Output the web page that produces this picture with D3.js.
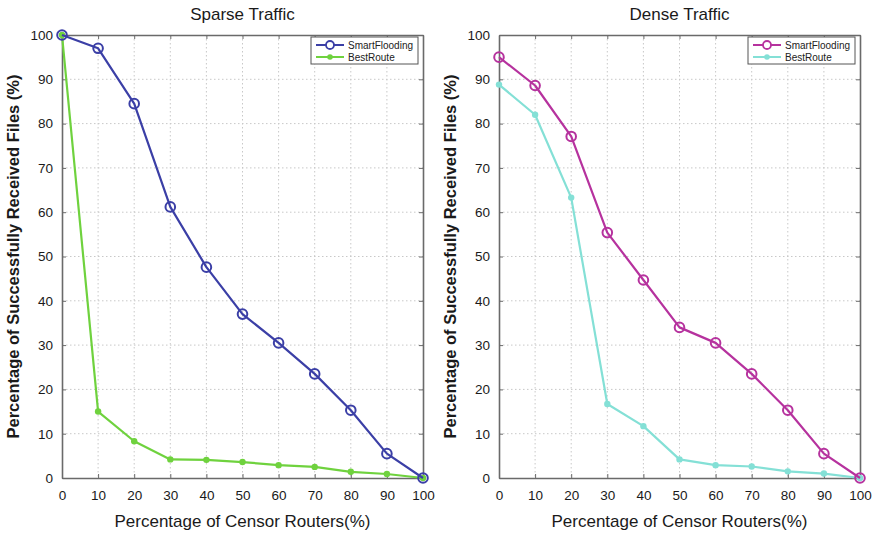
<!DOCTYPE html>
<html>
<head>
<meta charset="utf-8">
<script src="https://cdn.jsdelivr.net/npm/d3@7"></script>
<style>
  html, body { margin: 0; padding: 0; background: #fff; }
  svg { display: block; font-family: "Liberation Sans", Arial, Helvetica, sans-serif; }
</style>
</head>
<body>
<svg id="chart" width="875" height="534"></svg>
<script>
// Censor router share (%) on the x axis
const censorPct = [0, 10, 20, 30, 40, 50, 60, 70, 80, 90, 100];

// Sparse traffic: successfully received files (%)
const sparseSmartFlooding = [100, 97, 84.5, 61.2, 47.6, 37, 30.5, 23.5, 15.3, 5.5, 0];
const sparseBestRoute     = [100, 15, 8.3, 4.2, 4.1, 3.6, 2.9, 2.5, 1.4, 0.9, 0];

// Dense traffic: successfully received files (%)
const denseSmartFlooding = [95, 88.6, 77.1, 55.4, 44.7, 34, 30.5, 23.5, 15.3, 5.5, 0];
const denseBestRoute     = [88.8, 82, 63.3, 16.7, 11.7, 4.2, 2.9, 2.6, 1.5, 1.0, 0];

const xTicks = [0, 10, 20, 30, 40, 50, 60, 70, 80, 90, 100];
const yTicks = [0, 10, 20, 30, 40, 50, 60, 70, 80, 90, 100];

const seriesNames = ["SmartFlooding", "BestRoute"];

const panels = [
  {
    title: "Sparse Traffic",
    left: 62, right: 423,
    series: [
      { name: seriesNames[0], values: sparseSmartFlooding, color: "#3b3fa6", marker: "ring" },
      { name: seriesNames[1], values: sparseBestRoute, color: "#6fd23e", marker: "dot" }
    ]
  },
  {
    title: "Dense Traffic",
    left: 499, right: 860,
    series: [
      { name: seriesNames[0], values: denseSmartFlooding, color: "#b6329e", marker: "ring" },
      { name: seriesNames[1], values: denseBestRoute, color: "#84e0d6", marker: "dot" }
    ]
  }
];

const plotTop = 35, plotBottom = 478;
const svg = d3.select("#chart");

panels.forEach(p => {
  const x = d3.scaleLinear().domain([0, 100]).range([p.left, p.right]);
  const y = d3.scaleLinear().domain([0, 100]).range([plotBottom, plotTop]);
  const g = svg.append("g");

  // dotted grid
  g.append("g").selectAll("line").data(xTicks.slice(1, -1)).join("line")
    .attr("x1", d => x(d)).attr("x2", d => x(d))
    .attr("y1", plotTop).attr("y2", plotBottom)
    .attr("stroke", "#c8c8c8").attr("stroke-width", 1)
    .attr("stroke-dasharray", "1.5,2.5");
  g.append("g").selectAll("line").data(yTicks.slice(1, -1)).join("line")
    .attr("x1", p.left).attr("x2", p.right)
    .attr("y1", d => y(d)).attr("y2", d => y(d))
    .attr("stroke", "#c8c8c8").attr("stroke-width", 1)
    .attr("stroke-dasharray", "1.5,2.5");

  // axes with inward ticks
  const xAxis = g.append("g").attr("transform", `translate(0,${plotBottom})`)
    .call(d3.axisBottom(x).tickValues(xTicks).tickSizeInner(-4).tickSizeOuter(0).tickPadding(12));
  const xAxisTop = g.append("g").attr("transform", `translate(0,${plotTop})`)
    .call(d3.axisTop(x).tickValues(xTicks).tickSizeInner(-4).tickSizeOuter(0).tickFormat(""));
  const yAxis = g.append("g").attr("transform", `translate(${p.left},0)`)
    .call(d3.axisLeft(y).tickValues(yTicks).tickSizeInner(-4).tickSizeOuter(0).tickPadding(9));
  const yAxisRight = g.append("g").attr("transform", `translate(${p.right},0)`)
    .call(d3.axisRight(y).tickValues(yTicks).tickSizeInner(-4).tickSizeOuter(0).tickFormat(""));

  [xAxis, xAxisTop, yAxis, yAxisRight].forEach(a => {
    a.select(".domain").attr("stroke", "#6a6a6a").attr("stroke-width", 1.6);
    a.selectAll(".tick line").attr("stroke", "#6a6a6a").attr("stroke-width", 1);
    a.selectAll("text").attr("fill", "#1a1a1a").style("font-size", "13.5px")
      .style("font-family", "'Liberation Sans', Arial, sans-serif");
  });

  // series lines and markers
  const line = d3.line().x((d, i) => x(censorPct[i])).y(d => y(d));
  p.series.slice().reverse().forEach(s => {
    g.append("path").datum(s.values)
      .attr("d", line).attr("fill", "none")
      .attr("stroke", s.color).attr("stroke-width", 2.2)
      .attr("stroke-linejoin", "round");
    const m = g.append("g").selectAll("circle").data(s.values).join("circle")
      .attr("cx", (d, i) => x(censorPct[i])).attr("cy", d => y(d));
    if (s.marker === "ring") {
      m.attr("r", 4.8).attr("fill", "none").attr("stroke", s.color).attr("stroke-width", 2);
    } else {
      m.attr("r", 3.2).attr("fill", s.color);
    }
  });

  // legend
  const lg = g.append("g").attr("transform", `translate(${p.right - 112},${plotTop + 2})`);
  lg.append("rect").attr("x", 0).attr("y", 0).attr("width", 107).attr("height", 27)
    .attr("fill", "#fff").attr("stroke", "#555").attr("stroke-width", 1);
  p.series.forEach((s, i) => {
    const ly = 8 + i * 12;
    lg.append("line").attr("x1", 5).attr("x2", 33).attr("y1", ly).attr("y2", ly)
      .attr("stroke", s.color).attr("stroke-width", 2);
    if (s.marker === "ring") {
      lg.append("circle").attr("cx", 19).attr("cy", ly).attr("r", 4)
        .attr("fill", "#fff").attr("stroke", s.color).attr("stroke-width", 1.8);
    } else {
      lg.append("circle").attr("cx", 19).attr("cy", ly).attr("r", 2.8).attr("fill", s.color);
    }
    lg.append("text").attr("x", 37).attr("y", ly).attr("dy", "0.35em")
      .attr("fill", "#222").style("font-size", "10px").text(s.name);
  });

  // titles
  g.append("text").attr("x", (p.left + p.right) / 2).attr("y", 20)
    .attr("text-anchor", "middle").attr("fill", "#1a1a1a")
    .style("font-size", "17px").text(p.title);
  g.append("text").attr("x", (p.left + p.right) / 2).attr("y", 527)
    .attr("text-anchor", "middle").attr("fill", "#1a1a1a")
    .style("font-size", "17px").text("Percentage of Censor Routers(%)");
  g.append("text")
    .attr("transform", `translate(${p.left - 43},${(plotTop + plotBottom) / 2}) rotate(-90)`)
    .attr("text-anchor", "middle").attr("fill", "#1a1a1a")
    .style("font-size", "16.5px").style("font-weight", "bold")
    .text("Percentage of Successfully Received Files (%)");
});
</script>
</body>
</html>
